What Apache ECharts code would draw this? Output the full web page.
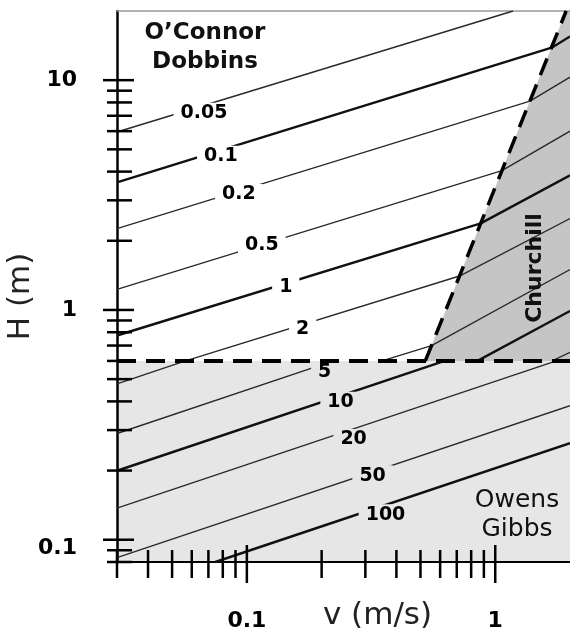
<!DOCTYPE html>
<html>
<head>
<meta charset="utf-8">
<script src="https://cdn.jsdelivr.net/npm/echarts@6/dist/echarts.min.js"></script>
<style>
html,body{margin:0;padding:0;background:#fff;}
#chart{width:570px;height:632px;}
</style>
</head>
<body>
<div id="chart"></div>
<script>
// ---------- data ----------
const X_MIN = 0.03, X_MAX = 2;
const Y_MIN = 0.08, Y_MAX = 20;

const xTickValues = [0.03,0.04,0.05,0.06,0.07,0.08,0.09,0.1,0.2,0.3,0.4,0.5,0.6,0.7,0.8,0.9,1];
const xMajorTicks = [0.1, 1];
const xTickLabels = ['0.1', '1'];

const yTickValues = [0.08,0.09,0.1,0.2,0.3,0.4,0.5,0.6,0.7,0.8,0.9,1,2,3,4,5,6,7,8,9,10];
const yMajorTicks = [0.1, 1, 10];
const yTickLabels = ['0.1', '1', '10'];

// contour levels (reaeration rate) and their polylines (v, H)
const contourLevels = ['0.05','0.1','0.2','0.5','1','2','5','10','20','50','100'];
const contour_0_05 = [[[0.03,5.95],[1.18,20]]];
const contour_0_1  = [[[0.03,3.59],[1.70,13.9],[2,15.5]]];
const contour_0_2  = [[[0.03,2.26],[1.38,8.11],[2,10.3]]];
const contour_0_5  = [[[0.03,1.228],[1.064,4.04],[2,6.0]]];
const contour_1    = [[[0.03,0.774],[0.874,2.38],[2,3.85]]];
const contour_2    = [[[0.03,0.477],[0.0566,0.6],[0.718,1.405],[2,2.5]]];
const contour_5    = [[[0.03,0.290],[0.223,0.6]], [[0.350,0.6],[0.554,0.699],[2,1.5]]];
const contour_10   = [[[0.03,0.1996],[0.626,0.6]], [[0.848,0.6],[2,0.99]]];
const contour_20   = [[[0.03,0.1373],[1.761,0.6]], [[1.696,0.6],[2,0.654]]];
const contour_50   = [[[0.03,0.0836],[2,0.383]]];
const contour_100  = [[[0.0746,0.08],[2,0.2633]]];
const contourLines = [contour_0_05, contour_0_1, contour_0_2, contour_0_5, contour_1,
  contour_2, contour_5, contour_10, contour_20, contour_50, contour_100];
const thickLevels = ['0.1','1','10','100'];

// contour label anchors (v, H)
const labelV = [0.0672,0.0786,0.0929,0.1149,0.1434,0.1678,0.2057,0.2384,0.2690,0.3208,0.3616];
const labelH = [7.18,4.66,3.18,1.92,1.26,0.826,0.536,0.397,0.273,0.190,0.1285];

// regime boundaries
const owensBoundaryH = 0.6;
const horizontalBoundary = [[0.03,0.6],[2,0.6]];
const slantedBoundary = [[0.523,0.6],[1.93,20]];
const owensRegion = [[0.03,0.08],[2,0.08],[2,0.6],[0.03,0.6]];
const churchillRegion = [[0.523,0.6],[1.93,20],[2,20],[2,0.6]];

// ---------- chart ----------
const FONT = 'DejaVu Sans';
const LIGHT = '#e6e6e6', DARK = '#c5c5c5';

function near(a, b){ return Math.abs(Math.log10(a) - Math.log10(b)) < 1e-6; }
function tickLabel(values, labels){
  return function(val){
    for (let i = 0; i < values.length; i++) if (near(val, values[i])) return labels[i];
    return '';
  };
}

const chart = echarts.init(document.getElementById('chart'), null, {renderer:'canvas'});
const series = [];

function polygonSeries(points, color, z){
  return {
    type:'custom', coordinateSystem:'cartesian2d', silent:true, z:z, clip:false,
    data: points,
    renderItem: function(params, api){
      if (params.dataIndex !== 0) return null;
      return {type:'polygon', shape:{points: points.map(p => api.coord(p))}, style:{fill:color}};
    }
  };
}
series.push(polygonSeries(owensRegion, LIGHT, 0));
series.push(polygonSeries(churchillRegion, DARK, 0));

contourLines.forEach(function(segs, i){
  const thick = thickLevels.indexOf(contourLevels[i]) >= 0;
  segs.forEach(function(seg){
    series.push({
      type:'line', data: seg, showSymbol:false, symbol:'none', silent:true, z:2,
      lineStyle:{color: thick ? '#111' : '#2a2a2a', width: thick ? 2.4 : 1.4}
    });
  });
});

[horizontalBoundary, slantedBoundary].forEach(function(seg, i){
  series.push({
    type:'line', data: seg, showSymbol:false, symbol:'none', silent:true, z:5,
    lineStyle:{color:'#000', width: i === 0 ? 4 : 3.5, type: i === 0 ? [19,10] : [18,10], cap:'butt'}
  });
});

series.push({
  type:'scatter', z:4, silent:true, symbol:'circle', symbolSize:0.01,
  itemStyle:{color:'#000', opacity:1},
  data: contourLevels.map(function(t, i){
    return {
      value:[labelV[i], labelH[i]],
      label:{show:true, position:'inside', formatter:t, color:'#000',
        backgroundColor: labelH[i] < owensBoundaryH ? LIGHT : '#fff'}
    };
  }),
  label:{show:true, fontFamily:FONT, fontWeight:'bold', fontSize:19, color:'#000', padding:[1,7]}
});

function tickSeries(values, majors, isX){
  return {
    type:'custom', coordinateSystem:'cartesian2d', silent:true, z:6, clip:false,
    data: values.map(v => isX ? [v, Y_MIN] : [X_MIN, v]),
    renderItem: function(params, api){
      const p = api.coord([api.value(0), api.value(1)]);
      const val = isX ? api.value(0) : api.value(1);
      const major = majors.some(m => near(m, val));
      let shape;
      if (isX) shape = {x1:p[0], y1:p[1] - (major ? 17 : 12), x2:p[0], y2:p[1] + (major ? 21 : 16)};
      else shape = {x1:p[0] - (major ? 14 : 10), y1:p[1], x2:p[0] + (major ? 17 : 15), y2:p[1]};
      return {type:'line', shape:shape, style:{stroke:'#000', lineWidth:2.5}};
    }
  };
}
series.push(tickSeries(xTickValues, xMajorTicks, true));
series.push(tickSeries(yTickValues, yMajorTicks, false));

const option = {
  animation:false,
  grid:{left:117, right:0, top:11, bottom:70, containLabel:false, outerBoundsMode:'none'},
  xAxis:[{
    type:'log', logBase:10, min:X_MIN, max:X_MAX, position:'bottom',
    axisLine:{show:true, lineStyle:{color:'#000', width:2}},
    axisTick:{show:false}, splitLine:{show:false}, minorTick:{show:false},
    axisLabel:{show:true, margin:48, fontFamily:FONT, fontWeight:'bold', fontSize:22, color:'#000',
      showMinLabel:true, showMaxLabel:true, formatter: tickLabel(xMajorTicks, xTickLabels)},
    name:'v (m/s)', nameLocation:'middle', nameGap:38, nameMoveOverlap:false,
    nameTextStyle:{fontFamily:FONT, fontSize:31, color:'#222', padding:[0,0,0,68]}
  },{
    type:'log', logBase:10, min:X_MIN, max:X_MAX, position:'top',
    axisLine:{show:true, lineStyle:{color:'#9a9a9a', width:1.5}},
    axisTick:{show:false}, axisLabel:{show:false}, splitLine:{show:false}
  }],
  yAxis:[{
    type:'log', logBase:10, min:Y_MIN, max:Y_MAX,
    axisLine:{show:true, lineStyle:{color:'#000', width:2.5}},
    axisTick:{show:false}, splitLine:{show:false}, minorTick:{show:false},
    axisLabel:{show:true, margin:40, fontFamily:FONT, fontWeight:'bold', fontSize:22, color:'#000',
      formatter: function(val){
        const t = tickLabel(yMajorTicks, yTickLabels)(val);
        if (t === '0.1') return '{low|' + t + '}';
        return t;
      },
      rich:{low:{fontFamily:FONT, fontWeight:'bold', fontSize:22, color:'#000', padding:[18,0,0,0]}}
    },
    name:'H (m)', nameLocation:'middle', nameGap:81, nameRotate:90, nameMoveOverlap:false,
    nameTextStyle:{fontFamily:FONT, fontSize:31, color:'#222', padding:[0,20,0,0]}
  }],
  graphic:[
    {type:'text', x:205, y:48, z:100, style:{text:"O\u2019Connor\nDobbins", fontFamily:FONT, fontWeight:'bold', fontSize:23,
      lineHeight:29, fill:'#111', textAlign:'center', textVerticalAlign:'middle', verticalAlign:'middle'}},
    {type:'text', x:535, y:268, rotation:Math.PI/2, z:100, style:{text:'Churchill', fontFamily:FONT, fontWeight:'bold', fontSize:22,
      fill:'#111', textAlign:'center', textVerticalAlign:'middle', verticalAlign:'middle'}},
    {type:'text', x:517, y:515, z:100, style:{text:'Owens\nGibbs', fontFamily:FONT, fontSize:25,
      lineHeight:29, fill:'#111', textAlign:'center', textVerticalAlign:'middle', verticalAlign:'middle'}}
  ],
  series: series
};
chart.setOption(option);
</script>
</body>
</html>
